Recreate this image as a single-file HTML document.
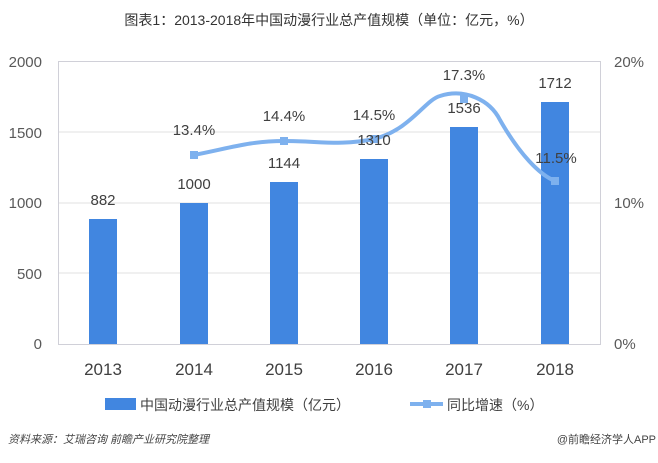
<!DOCTYPE html>
<html><head><meta charset="utf-8"><style>
body{margin:0;width:658px;height:458px;background:#fff;overflow:hidden}
text{font-family:"Liberation Sans","Noto Sans CJK SC",sans-serif}
</style></head><body>
<svg width="658" height="458" xmlns="http://www.w3.org/2000/svg">
<text x="329" y="25" text-anchor="middle" font-size="14" fill="#333">图表1：2013-2018年中国动漫行业总产值规模（单位：亿元，%）</text>
<rect x="58.5" y="61.5" width="542" height="283" fill="none" stroke="#d0d0d8"/>
<g stroke="#e0e0e0"><line x1="59" x2="600" y1="132" y2="132"/><line x1="59" x2="600" y1="203" y2="203"/><line x1="59" x2="600" y1="273" y2="273"/></g>
<g font-size="15" fill="#595959" text-anchor="end">
<text x="42" y="67">2000</text><text x="42" y="138">1500</text><text x="42" y="208">1000</text><text x="42" y="279">500</text><text x="42" y="349">0</text></g>
<g font-size="15" fill="#595959"><text x="614" y="67">20%</text><text x="614" y="208">10%</text><text x="614" y="349">0%</text></g>
<g fill="#4186e0">
<rect x="89" y="219" width="28" height="125"/><rect x="180" y="203" width="28" height="141"/><rect x="270" y="182" width="28" height="162"/><rect x="360" y="159" width="28" height="185"/><rect x="450" y="127" width="28" height="217"/><rect x="541" y="102" width="28" height="242"/></g>
<path d="M194,155 C230,148 250,141 284,141 C320,141 340,146 374,139 C410,130 425,100 440,96 C465,88 490,100 500,120 C520,155 540,175 555,181" fill="none" stroke="#7eb1ee" stroke-width="4"/>
<g fill="#7eb1ee"><rect x="190" y="151" width="8" height="8"/><rect x="280" y="137" width="8" height="8"/><rect x="370" y="135" width="8" height="8"/><rect x="460" y="95" width="8" height="8"/><rect x="551" y="177" width="8" height="8"/></g>
<g font-size="15" fill="#404040" text-anchor="middle">
<text x="103" y="205">882</text><text x="194" y="189">1000</text><text x="284" y="168">1144</text><text x="374" y="145">1310</text><text x="464" y="113">1536</text><text x="555" y="88">1712</text>
<text x="194" y="135">13.4%</text><text x="284" y="121">14.4%</text><text x="374" y="120">14.5%</text><text x="464" y="80">17.3%</text><text x="556" y="163">11.5%</text></g>
<g font-size="17" fill="#404040" text-anchor="middle" style="font-family:'Liberation Serif',serif">
<text x="103" y="375">2013</text><text x="194" y="375">2014</text><text x="284" y="375">2015</text><text x="374" y="375">2016</text><text x="464" y="375">2017</text><text x="555" y="375">2018</text></g>
<rect x="105" y="398" width="31" height="12" fill="#4186e0"/>
<text x="140" y="410" font-size="14" fill="#404040">中国动漫行业总产值规模（亿元）</text>
<line x1="410" x2="443" y1="404" y2="404" stroke="#7eb1ee" stroke-width="4"/>
<rect x="423" y="400" width="8" height="8" fill="#7eb1ee"/>
<text x="447" y="410" font-size="14" fill="#404040">同比增速（%）</text>
<text x="8" y="443" font-size="11" font-style="italic" fill="#444">资料来源：艾瑞咨询 前瞻产业研究院整理</text>
<text x="656" y="443" font-size="11" fill="#444" text-anchor="end">@前瞻经济学人APP</text>
</svg>
</body></html>
